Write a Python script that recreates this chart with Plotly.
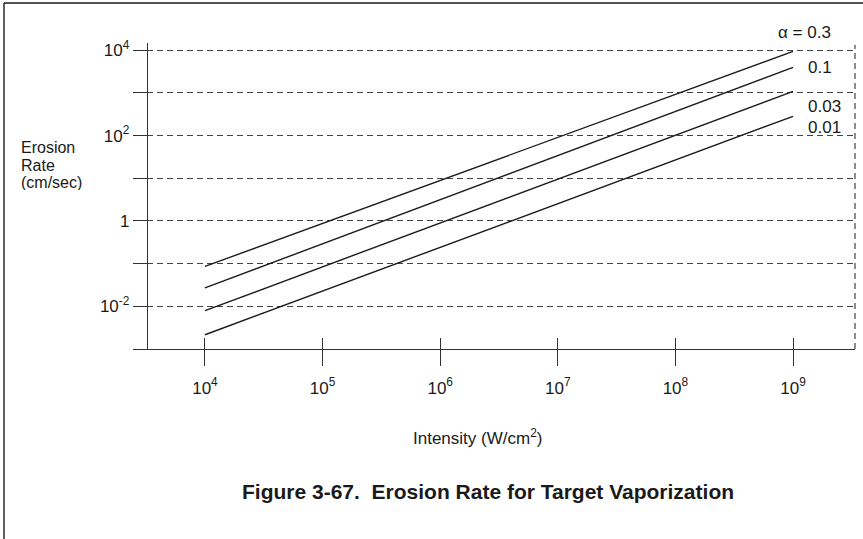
import plotly.graph_objects as go

# ---- data ----
intensity = [1e4, 1e9]                 # W/cm^2
rate_a03 = [0.086, 9400]               # alpha = 0.3
rate_a01 = [0.027, 3980]               # alpha = 0.1
rate_a003 = [0.0079, 1090]             # alpha = 0.03
rate_a001 = [0.00216, 283]             # alpha = 0.01

x_tickvals = [1e4, 1e5, 1e6, 1e7, 1e8, 1e9]
x_ticktext = ["10<sup>4</sup>", "10<sup>5</sup>", "10<sup>6</sup>",
              "10<sup>7</sup>", "10<sup>8</sup>", "10<sup>9</sup>"]
y_tickvals = [1e-3, 1e-2, 1e-1, 1, 1e1, 1e2, 1e3, 1e4]
y_ticktext = ["", "10<sup>-2</sup>", "", "1", "", "10<sup>2</sup>", "", "10<sup>4</sup>"]

series_names = ["α = 0.3", "0.1", "0.03", "0.01"]
series_values = [rate_a03, rate_a01, rate_a003, rate_a001]

INK = "#1a1a1a"
FONT = "Liberation Sans, Arial, Helvetica, sans-serif"
FS = 17

# plot-area geometry in pixels
L, R, T, B = 137, 855, 43, 349
W, H = 863, 539


def px_x(p):
    return (p - L) / (R - L)


def px_y(p):
    return (B - p) / (B - T)


# label anchor pixels (left edge x, centre y)
label_px = [(776, 33), (806, 67), (806, 106), (806, 127)]

fig = go.Figure()
for name, ys in zip(series_names, series_values):
    fig.add_trace(go.Scatter(x=intensity, y=ys, mode="lines", name=name,
                             line=dict(color=INK, width=1.4), showlegend=False,
                             hoverinfo="skip"))
# invisible trace to realise the overlay axis (inside tick marks)
fig.add_trace(go.Scatter(x=intensity, y=rate_a03, mode="lines", xaxis="x2",
                         line=dict(width=0), opacity=0, showlegend=False,
                         hoverinfo="skip"))

xr = [3.422, 9.527]
yr = [-3, 4.17]

fig.update_layout(
    width=W, height=H,
    margin=dict(l=L, r=W - R, t=T, b=H - B),
    paper_bgcolor="white", plot_bgcolor="white",
    font=dict(family=FONT, size=FS, color=INK),
    xaxis=dict(type="log", range=xr, tickvals=x_tickvals, ticktext=x_ticktext,
               ticks="outside", ticklen=16, tickwidth=1.4, tickcolor="#333",
               showline=True, linecolor="#333", linewidth=1.4,
               showgrid=False, zeroline=False, ticklabelstandoff=7,
               tickfont=dict(size=FS, color=INK)),
    xaxis2=dict(type="log", range=xr, overlaying="x", anchor="y",
                tickvals=x_tickvals, showticklabels=False,
                ticks="inside", ticklen=11, tickwidth=1.4, tickcolor="#333",
                showline=False, showgrid=False, zeroline=False),
    yaxis=dict(type="log", range=yr, tickvals=y_tickvals, ticktext=y_ticktext,
               anchor="free", position=(147 - L) / (R - L),
               ticks="outside", ticklen=14, tickwidth=1.4, tickcolor="#333",
               showline=True, linecolor="#333", linewidth=1.4,
               showgrid=True, gridcolor="#444", gridwidth=1.2, griddash="6px,4px",
               zeroline=False, tickfont=dict(size=FS, color=INK)),
)

for name, (lx, ly) in zip(series_names, label_px):
    fig.add_annotation(x=px_x(lx), y=px_y(ly), xref="paper", yref="paper",
                       text=name, showarrow=False, xanchor="left", yanchor="middle",
                       font=dict(size=FS, color=INK, family=FONT))

# y-axis title (three stacked lines, tight leading as in the reference)
for line_text, cy in zip(["Erosion", "Rate", "(cm/sec)"], [147, 165, 182]):
    fig.add_annotation(x=px_x(20), y=px_y(cy), xref="paper", yref="paper",
                       text=line_text, showarrow=False,
                       xanchor="left", yanchor="middle", align="left",
                       height=16, borderpad=0,
                       font=dict(size=16, color=INK, family=FONT))

fig.add_annotation(x=px_x(477), y=px_y(437), xref="paper", yref="paper",
                   text="Intensity (W/cm<sup>2</sup>)", showarrow=False,
                   xanchor="center", yanchor="middle",
                   font=dict(size=FS, color=INK, family=FONT))
fig.add_annotation(x=px_x(488), y=px_y(491), xref="paper", yref="paper",
                   text="<b>Figure 3-67.  Erosion Rate for Target Vaporization</b>",
                   showarrow=False, xanchor="center", yanchor="middle",
                   font=dict(size=21, color=INK, family=FONT))

# frame (left and top edges) and right dashed border of the plot
fig.add_shape(type="line", xref="paper", yref="paper",
              x0=px_x(4), x1=px_x(4), y0=px_y(H), y1=px_y(3),
              line=dict(color=INK, width=1.4))
fig.add_shape(type="line", xref="paper", yref="paper",
              x0=px_x(4), x1=px_x(W), y0=px_y(3), y1=px_y(3),
              line=dict(color=INK, width=1.4))
fig.add_shape(type="line", xref="paper", yref="paper",
              x0=1, x1=1, y0=0, y1=px_y(45),
              line=dict(color="#444", width=1.2, dash="6px,4px"))

fig.write_html("out.html",
               config={"displayModeBar": False},
               post_script="document.body.style.margin='0';")
